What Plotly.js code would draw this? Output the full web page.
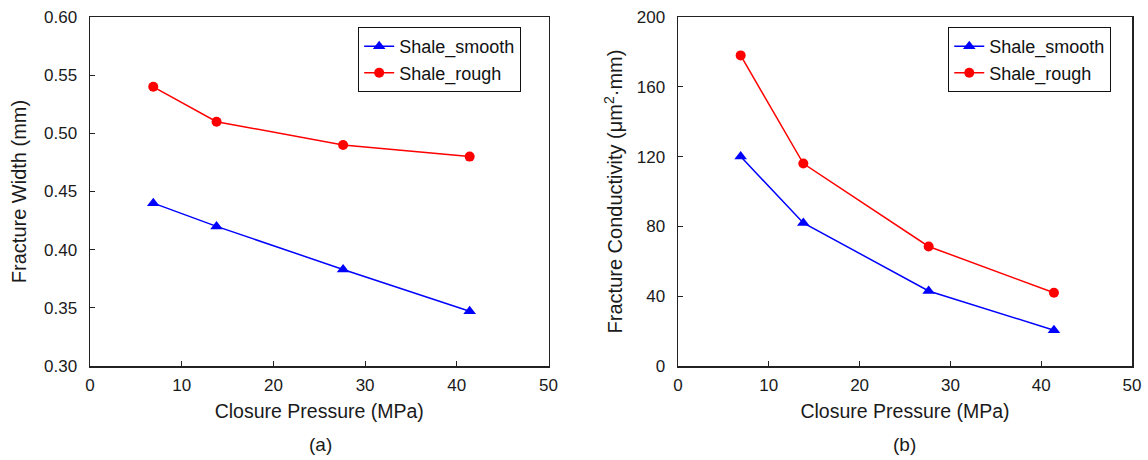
<!DOCTYPE html>
<html>
<head>
<meta charset="utf-8">
<script src="https://cdn.plot.ly/plotly-3.0.1.min.js"></script>
<style>html,body{margin:0;padding:0;background:#fff;}#chart{width:1148px;height:460px;}</style>
</head>
<body>
<div id="chart"></div>
<script>
// Closure pressure (MPa)
const pressure = [6.9, 13.8, 27.6, 41.4];
// (a) Fracture width (mm)
const widthSmooth = [0.44, 0.42, 0.383, 0.347];
const widthRough = [0.54, 0.51, 0.49, 0.48];
// (b) Fracture conductivity (um^2·mm)
const condSmooth = [120, 82, 43, 20.5];
const condRough = [178, 116, 68.5, 42];
const seriesNames = ["Shale_smooth", "Shale_rough"];
const panelLabels = ["(a)", "(b)"];

const blue = "#0000ff", red = "#ff0000";
const font = {family: "Liberation Sans, Arial, sans-serif", color: "#1a1a1a"};

function tr(y, name, color, sym, size, xa, ya, leg) {
  return {x: pressure, y: y, name: name, type: "scatter", mode: "lines+markers",
    xaxis: xa, yaxis: ya, legend: leg,
    line: {color: color, width: 1.5},
    marker: {color: color, symbol: sym, size: size}};
}

const data = [
  tr(widthSmooth, seriesNames[0], blue, "triangle-up", 11, "x", "y", "legend"),
  tr(widthRough, seriesNames[1], red, "circle", 10, "x", "y", "legend"),
  tr(condSmooth, seriesNames[0], blue, "triangle-up", 11, "x2", "y2", "legend2"),
  tr(condRough, seriesNames[1], red, "circle", 10, "x2", "y2", "legend2")
];

const axBase = {showline: true, mirror: true, linecolor: "#222", linewidth: 1.5,
  ticks: "inside", ticklen: 5, tickcolor: "#222", showgrid: false, zeroline: false,
  tickfont: {size: 17}};

const legBase = {bordercolor: "#111", borderwidth: 1, bgcolor: "#fff",
  font: {size: 18, color: "#111"}, xanchor: "left", yanchor: "top", tracegroupgap: 0,
  itemwidth: 30};

const layout = {
  width: 1148, height: 460,
  margin: {l: 0, r: 0, t: 17, b: 94},
  paper_bgcolor: "#fff", plot_bgcolor: "#fff",
  font: font,
  xaxis: Object.assign({}, axBase, {domain: [0.0784, 0.4778], range: [0, 50], dtick: 10,
    ticklabelstandoff: 3,
    title: {text: "Closure Pressure (MPa)", font: {size: 19.5}, standoff: 10}}),
  yaxis: Object.assign({}, axBase, {domain: [0, 1], range: [0.3, 0.6], dtick: 0.05, tickformat: ".2f",
    ticklabelstandoff: 8,
    title: {text: "Fracture Width (mm)", font: {size: 20}, standoff: 12}}),
  xaxis2: Object.assign({}, axBase, {domain: [0.5906, 0.9861], range: [0, 50], dtick: 10, anchor: "y2",
    ticklabelstandoff: 3,
    title: {text: "Closure Pressure (MPa)", font: {size: 19.5}, standoff: 10}}),
  yaxis2: Object.assign({}, axBase, {domain: [0, 1], range: [0, 200], dtick: 40, anchor: "x2",
    ticklabelstandoff: 8,
    title: {text: "Fracture Conductivity (μm<sup>2</sup>·mm)", font: {size: 20}, standoff: 8}}),
  legend: Object.assign({}, legBase, {x: 0.312, y: 0.971}),
  legend2: Object.assign({}, legBase, {x: 0.826, y: 0.971}),
  annotations: [
    {text: panelLabels[0], xref: "paper", yref: "paper", x: 0.279, y: -0.225, showarrow: false,
     xanchor: "center", yanchor: "middle", font: {size: 19}},
    {text: panelLabels[1], xref: "paper", yref: "paper", x: 0.788, y: -0.225, showarrow: false,
     xanchor: "center", yanchor: "middle", font: {size: 19}}
  ]
};

Plotly.newPlot("chart", data, layout, {staticPlot: true});
</script>
</body>
</html>
